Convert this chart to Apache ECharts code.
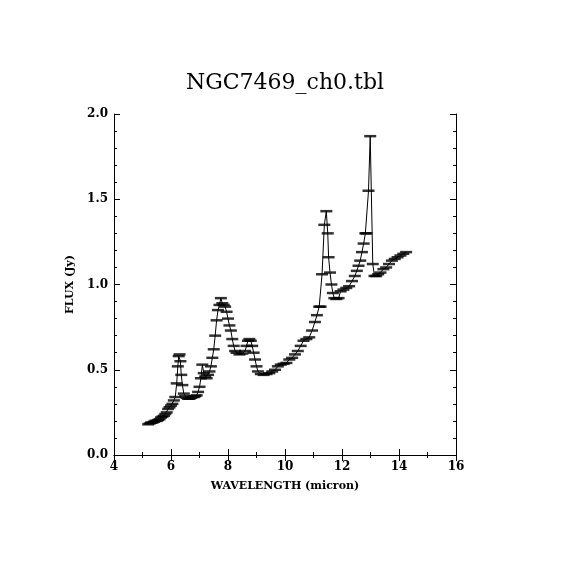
<!DOCTYPE html>
<html lang="en">
<head>
    <meta charset="UTF-8">
    <title>NGC7469_ch0.tbl</title>
    <script src="https://cdn.jsdelivr.net/npm/echarts@6/dist/echarts.min.js"></script>
    <style>
        html, body { margin: 0; padding: 0; background: #fff; }
    </style>
</head>
<body>
    <div id="main" style="width: 570px;height:570px;"></div>
    <script>
        // wavelength (micron) and flux (Jy)
        var wavelength = [
            5.20, 5.25, 5.30, 5.35, 5.40, 5.45, 5.50, 5.55, 5.60, 5.65,
            5.70, 5.75, 5.80, 5.85, 5.90, 5.95, 6.00, 6.05, 6.10, 6.15,
            6.20, 6.24, 6.27, 6.30, 6.33, 6.36, 6.40, 6.45, 6.50, 6.55,
            6.60, 6.65, 6.70, 6.75, 6.80, 6.85, 6.90, 6.95, 7.00, 7.05,
            7.10, 7.15, 7.20, 7.25, 7.30, 7.35, 7.40, 7.45, 7.50, 7.55,
            7.60, 7.65, 7.70, 7.75, 7.80, 7.85, 7.90, 7.95, 8.00, 8.05,
            8.10, 8.15, 8.20, 8.25, 8.30, 8.40, 8.50, 8.60, 8.65, 8.70,
            8.75, 8.80, 8.85, 8.90, 8.95, 9.00, 9.05, 9.15, 9.25, 9.35,
            9.45, 9.55, 9.65, 9.75, 9.85, 9.95, 10.05, 10.15, 10.25, 10.35,
            10.45, 10.55, 10.65, 10.75, 10.85, 10.95, 11.05, 11.12, 11.20, 11.25,
            11.30, 11.38, 11.45, 11.50, 11.53, 11.58, 11.63, 11.68, 11.73, 11.80,
            11.88, 11.95, 12.05, 12.15, 12.25, 12.35, 12.45, 12.52, 12.58, 12.64,
            12.70, 12.76, 12.82, 12.86, 12.93, 12.99, 13.08, 13.14, 13.20, 13.27,
            13.35, 13.45, 13.55, 13.65, 13.75, 13.85, 13.95, 14.05, 14.15, 14.25
        ];
        var flux = [
            0.180, 0.185, 0.190, 0.190, 0.195, 0.200, 0.200, 0.205, 0.210, 0.220,
            0.225, 0.230, 0.240, 0.250, 0.270, 0.280, 0.290, 0.300, 0.320, 0.340,
            0.420, 0.520, 0.580, 0.590, 0.550, 0.470, 0.410, 0.360, 0.345, 0.335,
            0.330, 0.330, 0.335, 0.340, 0.340, 0.345, 0.350, 0.370, 0.400, 0.450,
            0.530, 0.480, 0.460, 0.450, 0.470, 0.490, 0.520, 0.570, 0.620, 0.700,
            0.790, 0.850, 0.880, 0.920, 0.890, 0.880, 0.870, 0.840, 0.800, 0.760,
            0.730, 0.680, 0.640, 0.610, 0.600, 0.590, 0.595, 0.610, 0.640, 0.670,
            0.680, 0.670, 0.640, 0.600, 0.560, 0.520, 0.490, 0.475, 0.470, 0.475,
            0.480, 0.490, 0.500, 0.520, 0.530, 0.535, 0.540, 0.560, 0.570, 0.590,
            0.610, 0.640, 0.670, 0.680, 0.690, 0.730, 0.780, 0.820, 0.870, 0.870,
            1.060, 1.350, 1.430, 1.300, 1.160, 1.070, 1.000, 0.950, 0.920, 0.915,
            0.920, 0.960, 0.970, 0.980, 0.990, 1.020, 1.050, 1.080, 1.110, 1.140,
            1.190, 1.240, 1.300, 1.300, 1.550, 1.870, 1.120, 1.050, 1.050, 1.060,
            1.070, 1.090, 1.100, 1.120, 1.140, 1.150, 1.160, 1.170, 1.180, 1.190
        ];
        var xTicks = [4, 6, 8, 10, 12, 14, 16];
        var yTicks = ['0.0', '0.5', '1.0', '1.5', '2.0'];

        var points = wavelength.map(function (w, i) { return [w, flux[i]]; });
        var tickFont = { fontFamily: 'DejaVu Serif', fontSize: 12, fontWeight: 'bold', color: '#000' };

        var myChart = echarts.init(document.getElementById('main'));
        myChart.setOption({
            animation: false,
            backgroundColor: '#fff',
            title: {
                text: 'NGC7469_ch0.tbl',
                left: 'center',
                top: 67,
                textStyle: { fontFamily: 'DejaVu Serif', fontSize: 22, fontWeight: 'normal', color: '#000' }
            },
            grid: { left: 114, top: 114, right: 114, bottom: 115 },
            xAxis: [{
                type: 'value', min: 4, max: 16, interval: 2,
                name: 'WAVELENGTH (micron)', nameLocation: 'middle', nameGap: 26,
                nameTextStyle: { fontFamily: 'DejaVu Serif', fontSize: 11, fontWeight: 'bold', color: '#000' },
                axisLine: { show: true, lineStyle: { color: '#000', width: 1 } },
                axisTick: { inside: true, length: 6, lineStyle: { color: '#000' } },
                minorTick: { show: true, splitNumber: 2, length: 3, lineStyle: { color: '#000' } },
                axisLabel: Object.assign({ margin: 6, formatter: function (v) { return xTicks.indexOf(v) >= 0 ? String(v) : ''; } }, tickFont),
                splitLine: { show: false }
            }, {
                type: 'value', min: 4, max: 16, interval: 2, position: 'top',
                axisLine: { show: true, lineStyle: { color: '#000', width: 1 } },
                axisTick: { inside: true, length: 6, lineStyle: { color: '#000' } },
                minorTick: { show: true, splitNumber: 2, length: 3, lineStyle: { color: '#000' } },
                axisLabel: { show: false },
                splitLine: { show: false }
            }],
            yAxis: [{
                type: 'value', min: 0, max: 2, interval: 0.5,
                name: 'FLUX (Jy)', nameLocation: 'middle', nameGap: 38,
                nameTextStyle: { fontFamily: 'DejaVu Serif', fontSize: 11, fontWeight: 'bold', color: '#000' },
                axisLine: { show: true, lineStyle: { color: '#000', width: 1 } },
                axisTick: { inside: true, length: 6, lineStyle: { color: '#000' } },
                minorTick: { show: true, splitNumber: 5, length: 3, lineStyle: { color: '#000' } },
                axisLabel: Object.assign({ margin: 6, formatter: function (v) { return yTicks[Math.round(v * 2)]; } }, tickFont),
                splitLine: { show: false }
            }, {
                type: 'value', min: 0, max: 2, interval: 0.5, position: 'right',
                axisLine: { show: true, lineStyle: { color: '#000', width: 1 } },
                axisTick: { inside: true, length: 6, lineStyle: { color: '#000' } },
                minorTick: { show: true, splitNumber: 5, length: 3, lineStyle: { color: '#000' } },
                axisLabel: { show: false },
                splitLine: { show: false }
            }],
            series: [{
                // connecting line
                type: 'line',
                data: points,
                showSymbol: false,
                lineStyle: { color: '#000', width: 1 },
                z: 2
            }, {
                // horizontal bin bars
                type: 'scatter',
                data: points,
                symbol: 'rect',
                symbolSize: [12, 2.5],
                itemStyle: { color: '#000' },
                z: 3
            }]
        });
    </script>
</body>
</html>
